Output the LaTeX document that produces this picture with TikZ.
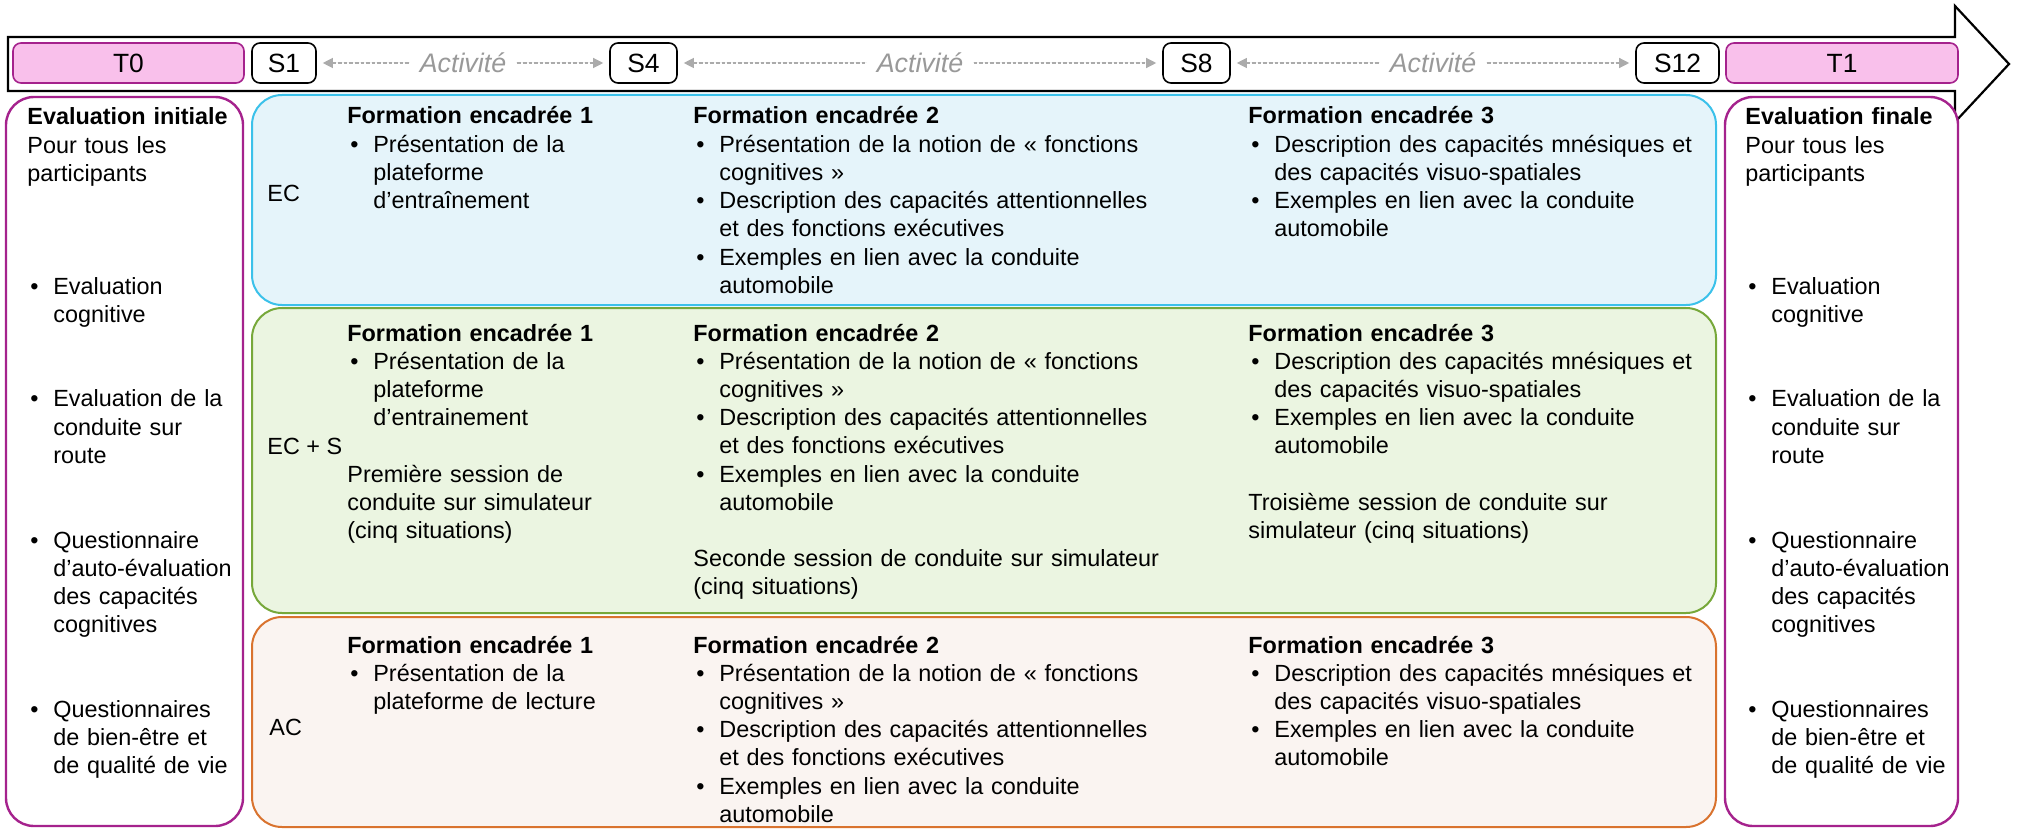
\documentclass[tikz,border=0pt]{standalone}
\usepackage{fontspec}
\setmainfont{Liberation Sans}
\usetikzlibrary{arrows.meta,calc}
\definecolor{pinkfill}{HTML}{F9C0EB}
\definecolor{evmag}{HTML}{A5228D}
\definecolor{ecline}{HTML}{3BC1EA}
\definecolor{ecfill}{HTML}{E5F4FA}
\definecolor{ecsline}{HTML}{77A83A}
\definecolor{ecsfill}{HTML}{EBF5E1}
\definecolor{acline}{HTML}{D9732F}
\definecolor{acfill}{HTML}{FAF4F1}
\definecolor{actline}{HTML}{ABABAB}
\definecolor{acttext}{HTML}{999999}
\newlength\bulind
\setlength\bulind{13pt}
\newcommand\bul{\par\noindent\hangindent=\bulind\hangafter=1\makebox[\bulind][l]{\hspace{1.5pt}•}\ignorespaces}
\newcommand\gap[1]{\par\vskip#1\baselineskip\relax}
\newcommand\fe[1]{\textbf{Formation encadrée #1}}
\begin{document}
\begin{tikzpicture}[x=0.5pt,y=-0.5pt,
  basefont/.style={font=\fontsize{11.7pt}{14.1pt}\selectfont},
  txt/.style={basefont, anchor=base west, inner sep=0pt, text width=300pt, align=left},
  lab/.style={basefont, anchor=west, inner sep=0pt},
  sbox/.style={font=\fontsize{13.2pt}{15pt}\selectfont, draw=black, fill=white, rounded corners=4pt, line width=0.8pt, minimum height=20pt, inner sep=0pt},
  tbox/.style={sbox, draw=evmag, fill=pinkfill},
  panel/.style={rounded corners=15pt, line width=1pt, inner sep=0pt},
  evalbox/.style={panel, draw=evmag, fill=white, line width=1.2pt, rounded corners=14pt},
  act/.style={draw=actline, fill=actline, line width=0.6pt, dash pattern=on 1.8pt off 1pt, {Triangle[length=5pt,width=5pt]}-{Triangle[length=5pt,width=5pt]}, shorten <=3pt, shorten >=3pt},
  acttxt/.style={font=\fontsize{13.4pt}{15pt}\selectfont\itshape, fill=white, inner xsep=5pt, inner ysep=1pt, text=acttext}
]
\useasboundingbox (0,0) rectangle (2017,829);
\fill[white] (0,0) rectangle (2017,829);

% timeline arrow
\draw[line width=1.1pt, fill=white, line join=miter] (8,37) -- (1955,37) -- (1955,6) -- (2009,64) -- (1955,122) -- (1955,91) -- (8,91) -- cycle;

% panels
\node[evalbox, minimum width=118.5pt, minimum height=364.5pt] (ei) at (124.5,461.5) {};
\node[evalbox, minimum width=116.5pt, minimum height=364.5pt] (ef) at (1841.5,461.5) {};
\node[panel, draw=ecline, fill=ecfill, minimum width=732pt, minimum height=105pt] (ec) at (984,200) {};
\node[panel, draw=ecsline, fill=ecsfill, minimum width=732pt, minimum height=152.5pt] (ecs) at (984,460.5) {};
\node[panel, draw=acline, fill=acfill, minimum width=732pt, minimum height=105pt] (ac) at (984,722) {};

% timeline boxes
\node[tbox, minimum width=115.5pt] (t0) at (128.5,63) {T0};
\node[sbox, minimum width=32pt] (s1) at (284,63) {S1};
\node[sbox, minimum width=33.5pt] (s4) at (643.5,63) {S4};
\node[sbox, minimum width=33.5pt] (s8) at (1196.5,63) {S8};
\node[sbox, minimum width=41.5pt] (s12) at (1677.5,63) {S12};
\node[tbox, minimum width=116pt] (t1) at (1842,63) {T1};

\draw[act] (s1) -- (s4);
\draw[act] (s4) -- (s8);
\draw[act] (s8) -- (s12);
\node[acttxt] (a1) at ($(s1.east)!0.5!(s4.west)$) {Activité};
\node[acttxt] (a2) at ($(s4.east)!0.5!(s8.west)$) {Activité};
\node[acttxt] (a3) at ($(s8.east)!0.5!(s12.west)$) {Activité};

% evaluation texts
\node[txt] (eitxt) at (27,125) {\textbf{Evaluation initiale}\newline Pour tous les\newline participants
\gap{3}\bul Evaluation\newline cognitive
\gap{2}\bul Evaluation de la\newline conduite sur\newline route
\gap{2}\bul Questionnaire\newline d’auto-évaluation\newline des capacités\newline cognitives
\gap{2}\bul Questionnaires\newline de bien-être et\newline de qualité de vie\par};
\node[txt] (eftxt) at (1745,125) {\textbf{Evaluation finale}\newline Pour tous les\newline participants
\gap{3}\bul Evaluation\newline cognitive
\gap{2}\bul Evaluation de la\newline conduite sur\newline route
\gap{2}\bul Questionnaire\newline d’auto-évaluation\newline des capacités\newline cognitives
\gap{2}\bul Questionnaires\newline de bien-être et\newline de qualité de vie\par};

% group labels
\node[lab] (eclab) at (267,193) {EC};
\node[lab] (ecslab) at (267,446) {EC + S};
\node[lab] (aclab) at (269,727) {AC};

% EC
\node[txt] (ec1) at (347,124) {\fe{1}\bul Présentation de la\newline plateforme\newline d’entraînement\par};
\node[txt] (ec2) at (693,124) {\fe{2}\bul Présentation de la notion de « fonctions\newline cognitives »\bul Description des capacités attentionnelles\newline et des fonctions exécutives\bul Exemples en lien avec la conduite\newline automobile\par};
\node[txt] (ec3) at (1248,124) {\fe{3}\bul Description des capacités mnésiques et\newline des capacités visuo-spatiales\bul Exemples en lien avec la conduite\newline automobile\par};

% EC + S
\node[txt] (ecs1) at (347,341) {\fe{1}\bul Présentation de la\newline plateforme\newline d’entrainement\gap{1}Première session de\newline conduite sur simulateur\newline (cinq situations)\par};
\node[txt] (ecs2) at (693,341) {\fe{2}\bul Présentation de la notion de « fonctions\newline cognitives »\bul Description des capacités attentionnelles\newline et des fonctions exécutives\bul Exemples en lien avec la conduite\newline automobile\gap{1}Seconde session de conduite sur simulateur\newline (cinq situations)\par};
\node[txt] (ecs3) at (1248,341) {\fe{3}\bul Description des capacités mnésiques et\newline des capacités visuo-spatiales\bul Exemples en lien avec la conduite\newline automobile\gap{1}Troisième session de conduite sur\newline simulateur (cinq situations)\par};

% AC
\node[txt] (ac1) at (347,653) {\fe{1}\bul Présentation de la\newline plateforme de lecture\par};
\node[txt] (ac2) at (693,653) {\fe{2}\bul Présentation de la notion de « fonctions\newline cognitives »\bul Description des capacités attentionnelles\newline et des fonctions exécutives\bul Exemples en lien avec la conduite\newline automobile\par};
\node[txt] (ac3) at (1248,653) {\fe{3}\bul Description des capacités mnésiques et\newline des capacités visuo-spatiales\bul Exemples en lien avec la conduite\newline automobile\par};
\end{tikzpicture}
\end{document}
